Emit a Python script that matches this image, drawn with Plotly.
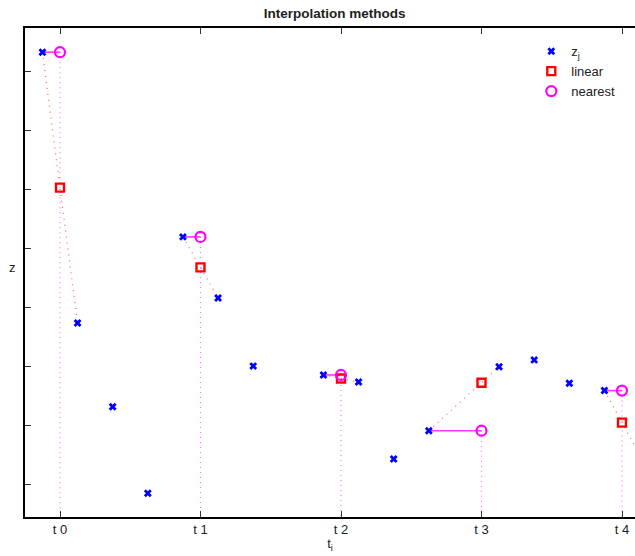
import numpy as np
import plotly.graph_objects as go

# ---- data ----
t_samples = [-0.125, 0.125, 0.375, 0.625, 0.875, 1.125, 1.375, 1.875,
             2.125, 2.375, 2.625, 3.125, 3.375, 3.625, 3.875, 4.125]
z_samples = [0.867, -0.051, -0.335, -0.628, 0.241, 0.034, -0.197, -0.227,
             -0.251, -0.512, -0.416, -0.199, -0.176, -0.255, -0.280, -0.497]
t_grid = [0, 1, 2, 3, 4]
tick_text = ["t 0", "t 1", "t 2", "t 3", "t 4"]
y_ticks = [-0.6, -0.4, -0.2, 0.0, 0.2, 0.4, 0.6, 0.8]

X_RANGE = [-0.2491, 4.0925]
Y_RANGE = [-0.7085, 0.949]

ts = np.array(t_samples)
zs = np.array(z_samples)

lin_vals = np.interp(t_grid, ts, zs)
near_idx = [int(np.searchsorted(ts, t, side="right") - 1) for t in t_grid]
near_vals = [zs[i] for i in near_idx]

# linear helper lines: previous sample -> next sample
lx, ly = [], []
for t in t_grid:
    i = int(np.searchsorted(ts, t, side="right") - 1)
    lx += [ts[i], ts[i + 1], None]
    ly += [zs[i], zs[i + 1], None]

# nearest horizontal lines
nx, ny = [], []
for t, i in zip(t_grid, near_idx):
    nx += [ts[i], t, None]
    ny += [zs[i], zs[i], None]

# vertical dotted lines from nearest down to bottom
vx, vy = [], []
for t, v in zip(t_grid, near_vals):
    vx += [t, t, None]
    vy += [v, Y_RANGE[0], None]

fig = go.Figure()
fig.add_trace(go.Scatter(x=vx, y=vy, mode="lines", showlegend=False,
                         line=dict(color="#ff70ff", width=1.2, dash="1px,4px"),
                         hoverinfo="skip"))
fig.add_trace(go.Scatter(x=lx, y=ly, mode="lines", showlegend=False,
                         line=dict(color="#ff6060", width=1.2, dash="1px,5px"),
                         hoverinfo="skip"))
fig.add_trace(go.Scatter(x=nx, y=ny, mode="lines", showlegend=False,
                         line=dict(color="#ff33ff", width=1.6),
                         hoverinfo="skip"))
fig.add_trace(go.Scatter(x=t_samples, y=z_samples, mode="markers", name="z<sub>j</sub>",
                         marker=dict(symbol="x", size=7, color="#0000ff",
                                     line=dict(width=0))))
fig.add_trace(go.Scatter(x=t_grid, y=lin_vals, mode="markers", name="linear",
                         marker=dict(symbol="square-open", size=8, color="#ff0000",
                                     line=dict(width=2.4, color="#ff0000"))))
fig.add_trace(go.Scatter(x=t_grid, y=near_vals, mode="markers", name="nearest",
                         marker=dict(symbol="circle-open", size=10, color="#ff00ff",
                                     line=dict(width=2.2, color="#ff00ff"))))

font_fam = "Liberation Sans, Arial, sans-serif"
fig.update_layout(
    width=635, height=556,
    margin=dict(l=25, r=0, t=28, b=39),
    paper_bgcolor="white", plot_bgcolor="white",
    font=dict(family=font_fam, size=13, color="#222"),
    title=dict(text="<b>Interpolation methods</b>", x=0.527, xanchor="center",
               y=1 - 13 / 556, yanchor="middle",
               font=dict(size=13.5, color="#222")),
    showlegend=True,
    legend=dict(x=0.83, y=0.983, xanchor="left", yanchor="top",
                bgcolor="rgba(0,0,0,0)", font=dict(size=13, color="#222"),
                tracegroupgap=0),
    xaxis=dict(range=X_RANGE, tickvals=t_grid, ticktext=tick_text,
               showgrid=False, zeroline=False, showline=True, linecolor="black",
               linewidth=1.5, mirror="ticks", ticks="inside", ticklen=6,
               tickcolor="#333", tickwidth=1,
               title=dict(text="t<sub>i</sub>", standoff=3,
                          font=dict(size=13, color="#222"))),
    yaxis=dict(range=Y_RANGE, tickvals=y_ticks, showticklabels=False,
               showgrid=False, zeroline=False, showline=True, linecolor="black",
               linewidth=1.5, ticks="inside", ticklen=6, tickcolor="#333",
               tickwidth=1),
    annotations=[dict(text="z", xref="paper", yref="paper",
                      x=-12 / 610, y=(517 - 267) / 489, xanchor="center",
                      yanchor="middle", showarrow=False,
                      font=dict(size=13, color="#222"))],
)

fig.write_html("out.html")
